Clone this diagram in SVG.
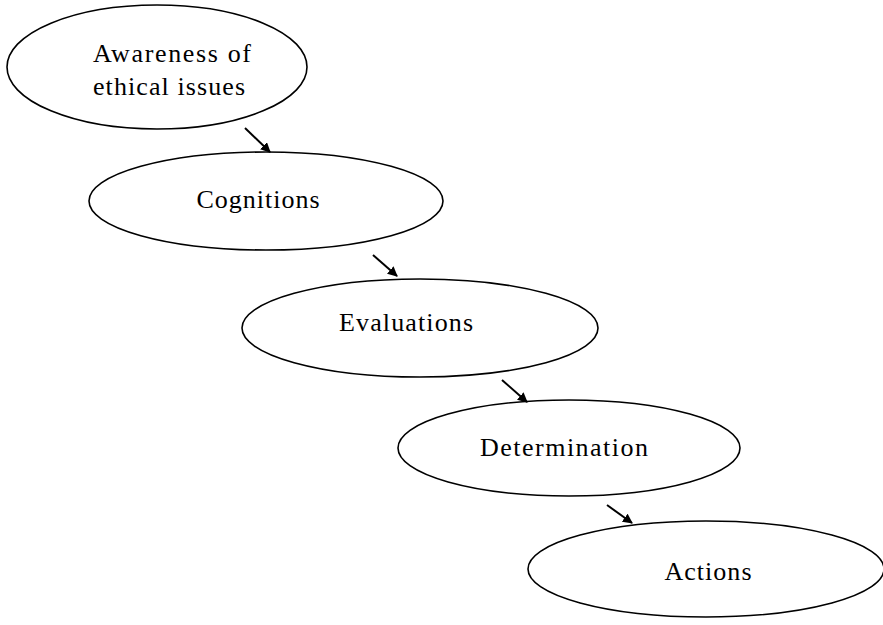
<svg xmlns="http://www.w3.org/2000/svg" width="883" height="625" viewBox="0 0 883 625">
<style>
.n{fill:#fff;stroke:#000;stroke-width:1.6}
.t{font-family:"Liberation Serif","DejaVu Serif",serif;font-size:26px;fill:#000;text-anchor:middle}
.c{stroke:#000;stroke-width:2;fill:none;marker-end:url(#ah)}
</style>
<defs>
<marker id="ah" viewBox="0 0 10 10" refX="9" refY="5" markerWidth="5" markerHeight="5" orient="auto" markerUnits="strokeWidth">
<path d="M0,0 L10,5 L0,10 z" fill="#000"/>
</marker>
</defs>
<rect width="883" height="625" fill="#fff"/>
<g id="n1"><ellipse class="n" cx="157" cy="67" rx="150" ry="62"/>
<text class="t" x="172" y="62" textLength="158" lengthAdjust="spacing">Awareness of</text>
<text class="t" x="169" y="95" textLength="152" lengthAdjust="spacing">ethical issues</text></g>
<g id="n2"><ellipse class="n" cx="266" cy="201" rx="177" ry="49"/>
<text class="t" x="258" y="208" textLength="123" lengthAdjust="spacing">Cognitions</text></g>
<g id="n3"><ellipse class="n" cx="420" cy="328" rx="178" ry="49"/>
<text class="t" x="406" y="331" textLength="134" lengthAdjust="spacing">Evaluations</text></g>
<g id="n4"><ellipse class="n" cx="569" cy="448" rx="171" ry="48"/>
<text class="t" x="564" y="456" textLength="168" lengthAdjust="spacing">Determination</text></g>
<g id="n5"><ellipse class="n" cx="706" cy="569" rx="178" ry="48"/>
<text class="t" x="708" y="580" textLength="87" lengthAdjust="spacing">Actions</text></g>
<g id="connectors">
<line class="c" x1="245" y1="128" x2="270" y2="152"/>
<line class="c" x1="373" y1="255" x2="397" y2="276"/>
<line class="c" x1="502" y1="380" x2="527" y2="402"/>
<line class="c" x1="607" y1="505" x2="632" y2="523"/>
</g>
</svg>
